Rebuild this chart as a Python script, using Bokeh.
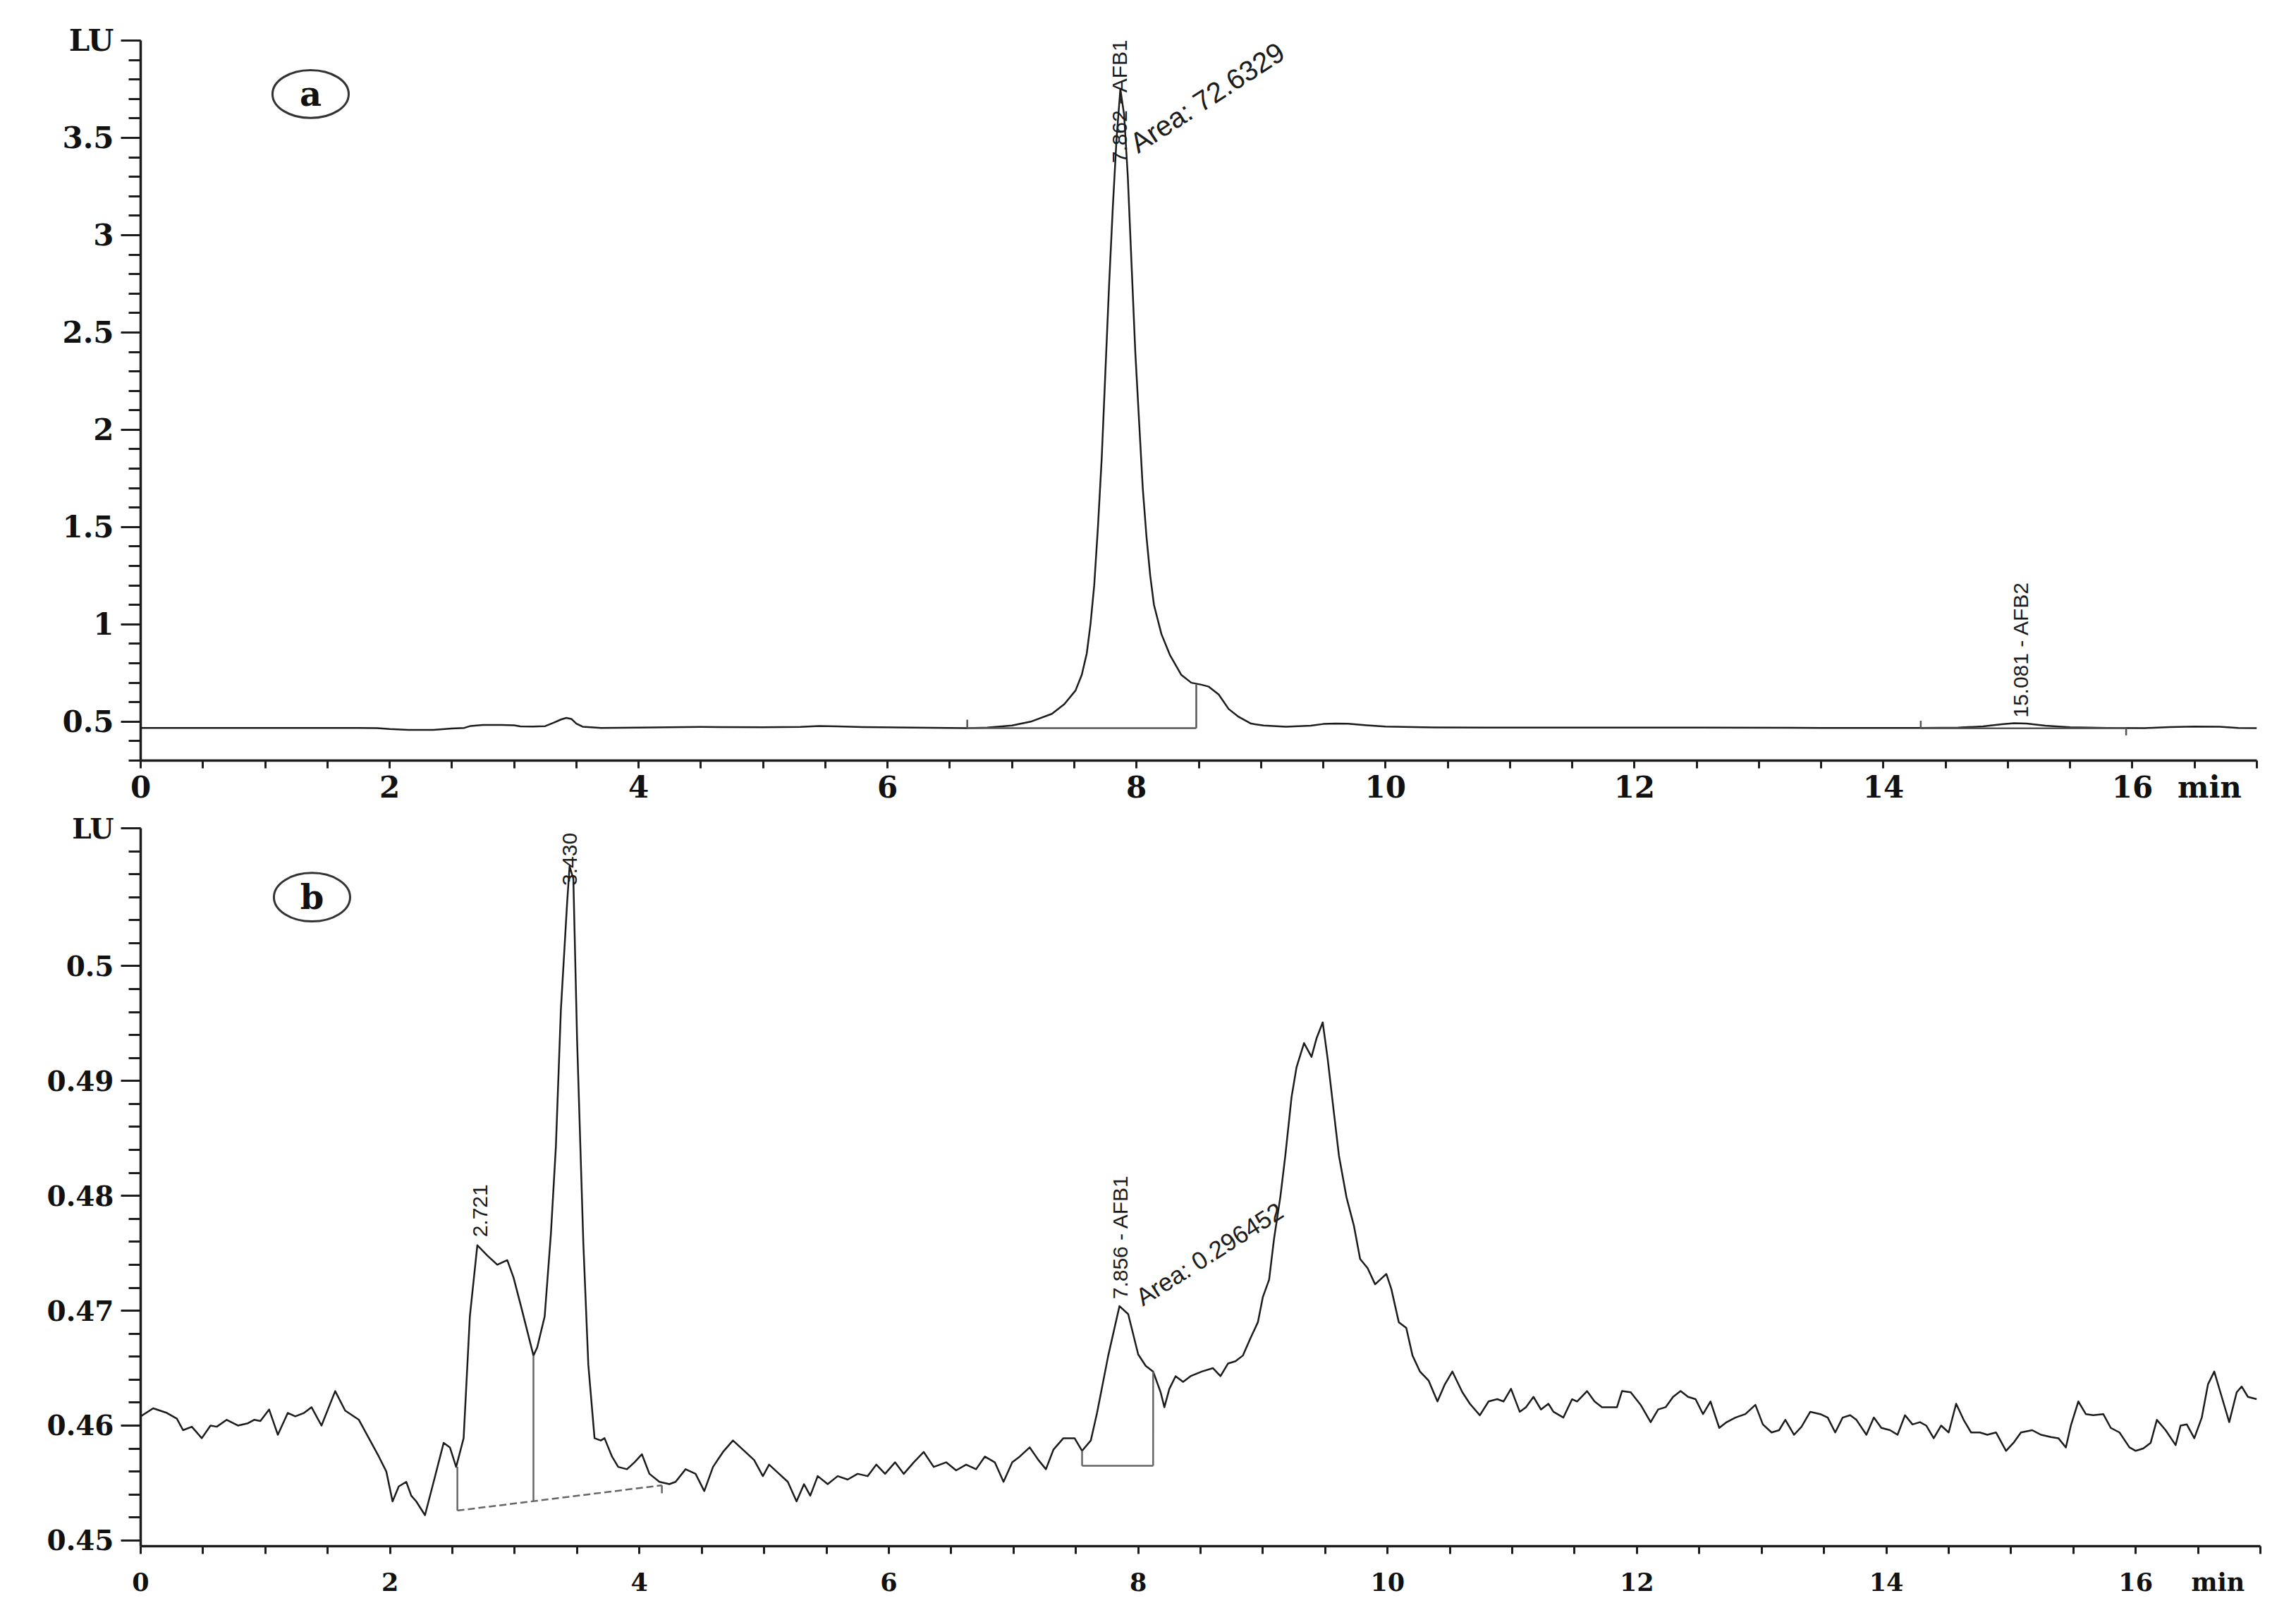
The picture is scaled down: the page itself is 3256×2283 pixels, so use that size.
import math
from bokeh.plotting import figure
from bokeh.models import Range1d, FixedTicker, Label
from bokeh.layouts import column
from bokeh.embed import file_html
from bokeh.resources import INLINE

# ---------------- Panel (a): standard chromatogram ----------------
a_time = [0.0, 0.5, 1.0, 1.5, 1.9, 2.0, 2.15, 2.35, 2.5, 2.6, 2.65, 2.75, 2.9, 3.0,
          3.05, 3.15, 3.25, 3.32, 3.38, 3.42, 3.46, 3.50, 3.55, 3.7, 4.0, 4.5, 5.0,
          5.3, 5.45, 5.6, 5.8, 6.2, 6.64, 6.8, 7.0, 7.15, 7.32, 7.42, 7.51, 7.56,
          7.60, 7.63, 7.66, 7.69, 7.72, 7.75, 7.78, 7.81, 7.84, 7.87, 7.90, 7.93,
          7.96, 7.99, 8.02, 8.05, 8.08, 8.11, 8.14, 8.20, 8.27, 8.36, 8.44, 8.52,
          8.58, 8.66, 8.74, 8.82, 8.92, 9.02, 9.2, 9.4, 9.5, 9.6, 9.7, 9.85, 10.0,
          10.3, 10.8, 11.5, 12.5, 13.5, 14.3, 14.6, 14.8, 14.95, 15.05, 15.15, 15.3,
          15.5, 15.8, 16.1, 16.3, 16.5, 16.7, 16.85, 17.0]
a_signal = [0.468, 0.468, 0.468, 0.468, 0.467, 0.462, 0.458, 0.458, 0.465, 0.468, 0.478,
            0.483, 0.483, 0.481, 0.476, 0.475, 0.477, 0.495, 0.512, 0.519, 0.514, 0.490,
            0.474, 0.468, 0.469, 0.473, 0.471, 0.473, 0.478, 0.476, 0.472, 0.469, 0.467,
            0.469, 0.480, 0.500, 0.540, 0.590, 0.660, 0.740, 0.850, 1.00, 1.20, 1.50,
            1.85, 2.30, 2.75, 3.15, 3.50, 3.75, 3.62, 3.30, 2.85, 2.40, 2.05, 1.70,
            1.45, 1.25, 1.10, 0.95, 0.84, 0.74, 0.70, 0.69, 0.68, 0.64, 0.565, 0.525,
            0.49, 0.48, 0.474, 0.479, 0.488, 0.490, 0.489, 0.481, 0.475, 0.471, 0.469,
            0.469, 0.469, 0.468, 0.468, 0.469, 0.476, 0.487, 0.492, 0.490, 0.479, 0.471,
            0.468, 0.467, 0.472, 0.475, 0.474, 0.468, 0.467]

a_xticks = [0, 2, 4, 6, 8, 10, 12, 14, 16, 16.62]
a_xtick_labels = ["0", "2", "4", "6", "8", "10", "12", "14", "16", "min"]
a_yticks = [0.5, 1.0, 1.5, 2.0, 2.5, 3.0, 3.5, 4.0]
a_ytick_labels = ["0.5", "1", "1.5", "2", "2.5", "3", "3.5", "LU"]

# integration marks of panel (a): (x0, y0, x1, y1)
a_integration = [(6.64, 0.467, 8.48, 0.467), (8.48, 0.467, 8.48, 0.69),
                 (6.64, 0.467, 6.64, 0.51), (14.30, 0.466, 15.95, 0.466),
                 (14.30, 0.466, 14.30, 0.505), (15.95, 0.466, 15.95, 0.43)]
a_peak_labels = ["7.862 - AFB1", "15.081 - AFB2"]
a_peak_label_x = [7.862, 15.10]
a_peak_label_y = [3.37, 0.52]
a_area_label = "Area: 72.6329"

# ---------------- Panel (b): sample chromatogram ----------------
b_time = [0.00, 0.10, 0.21, 0.29, 0.34, 0.41, 0.49, 0.56, 0.61, 0.69, 0.78, 0.86, 0.91,
          0.96, 1.03, 1.10, 1.18, 1.24, 1.31, 1.37, 1.45, 1.56, 1.64, 1.75, 1.83, 1.91,
          1.97, 2.02, 2.07, 2.13, 2.17, 2.21, 2.28, 2.34, 2.43, 2.48, 2.53, 2.59, 2.64,
          2.70, 2.78, 2.86, 2.94, 2.99, 3.05, 3.15, 3.18, 3.24, 3.29, 3.33, 3.37, 3.42,
          3.44, 3.47, 3.50, 3.55, 3.59, 3.64, 3.69, 3.72, 3.78, 3.83, 3.90, 3.96, 4.02,
          4.08, 4.16, 4.24, 4.29, 4.37, 4.45, 4.52, 4.59, 4.67, 4.75, 4.83, 4.92, 4.99,
          5.04, 5.10, 5.19, 5.26, 5.32, 5.37, 5.43, 5.51, 5.59, 5.67, 5.75, 5.83, 5.90,
          5.97, 6.05, 6.12, 6.20, 6.28, 6.36, 6.46, 6.54, 6.62, 6.70, 6.77, 6.85, 6.92,
          6.99, 7.05, 7.13, 7.20, 7.26, 7.32, 7.40, 7.49, 7.55, 7.62, 7.67, 7.76, 7.85,
          7.92, 8.00, 8.06, 8.12, 8.18, 8.21, 8.25, 8.30, 8.36, 8.42, 8.51, 8.60, 8.66,
          8.72, 8.78, 8.84, 8.90, 8.96, 9.00, 9.05, 9.09, 9.14, 9.18, 9.23, 9.27, 9.33,
          9.39, 9.43, 9.48, 9.52, 9.57, 9.61, 9.67, 9.73, 9.78, 9.84, 9.90, 9.94, 9.99,
          10.03, 10.09, 10.15, 10.20, 10.26, 10.33, 10.40, 10.46, 10.52, 10.60, 10.66,
          10.74, 10.81, 10.88, 10.93, 10.99, 11.06, 11.11, 11.17, 11.23, 11.29, 11.33,
          11.41, 11.48, 11.52, 11.60, 11.66, 11.72, 11.79, 11.84, 11.88, 11.95, 12.03,
          12.11, 12.17, 12.23, 12.29, 12.35, 12.41, 12.47, 12.53, 12.59, 12.66, 12.72,
          12.79, 12.87, 12.95, 13.01, 13.08, 13.14, 13.19, 13.26, 13.32, 13.39, 13.47,
          13.53, 13.59, 13.65, 13.71, 13.76, 13.84, 13.90, 13.96, 14.03, 14.09, 14.15,
          14.21, 14.27, 14.32, 14.38, 14.44, 14.50, 14.56, 14.62, 14.68, 14.75, 14.81,
          14.88, 14.96, 15.02, 15.08, 15.17, 15.24, 15.32, 15.38, 15.44, 15.48, 15.54,
          15.60, 15.66, 15.74, 15.80, 15.87, 15.95, 16.00, 16.06, 16.12, 16.17, 16.24,
          16.32, 16.36, 16.41, 16.47, 16.53, 16.58, 16.63, 16.69, 16.75, 16.81, 16.85,
          16.90, 16.97]
b_signal = [0.4608, 0.4615, 0.4611, 0.4606, 0.4596, 0.4599, 0.4589, 0.4600, 0.4599,
            0.4605, 0.4600, 0.4602, 0.4605, 0.4604, 0.4614, 0.4592, 0.4611, 0.4608,
            0.4611, 0.4616, 0.4600, 0.4630, 0.4613, 0.4605, 0.4589, 0.4573, 0.4560,
            0.4534, 0.4547, 0.4551, 0.4539, 0.4534, 0.4522, 0.4547, 0.4585, 0.4581,
            0.4564, 0.4589, 0.4695, 0.4757, 0.4748, 0.4740, 0.4744, 0.4729, 0.4704,
            0.4661, 0.4668, 0.4695, 0.4767, 0.4843, 0.4962, 0.5055, 0.5087, 0.5076,
            0.4936, 0.4759, 0.4653, 0.4589, 0.4587, 0.4589, 0.4573, 0.4564, 0.4562,
            0.4568, 0.4575, 0.4558, 0.4551, 0.4549, 0.4551, 0.4562, 0.4558, 0.4543,
            0.4564, 0.4577, 0.4587, 0.4579, 0.4570, 0.4556, 0.4566, 0.4560, 0.4551,
            0.4534, 0.4549, 0.4539, 0.4556, 0.4549, 0.4556, 0.4553, 0.4558, 0.4556,
            0.4566, 0.4558, 0.4568, 0.4558, 0.4568, 0.4577, 0.4564, 0.4568, 0.4561,
            0.4566, 0.4562, 0.4573, 0.4568, 0.4551, 0.4568, 0.4573, 0.4581, 0.4570,
            0.4562, 0.4579, 0.4589, 0.4589, 0.4578, 0.4587, 0.4611, 0.4661, 0.4704,
            0.4697, 0.4662, 0.4652, 0.4647, 0.4629, 0.4616, 0.4632, 0.4643, 0.4638,
            0.4643, 0.4647, 0.4650, 0.4643, 0.4654, 0.4656, 0.4661, 0.4676, 0.4690,
            0.4712, 0.4727, 0.4763, 0.4799, 0.4835, 0.4886, 0.4912, 0.4933, 0.4921,
            0.4937, 0.4951, 0.4919, 0.4872, 0.4835, 0.4799, 0.4774, 0.4745, 0.4737,
            0.4723, 0.4727, 0.4732, 0.4719, 0.4690, 0.4685, 0.4661, 0.4647, 0.4639,
            0.4621, 0.4636, 0.4647, 0.4629, 0.4619, 0.4609, 0.4621, 0.4623, 0.4621,
            0.4632, 0.4612, 0.4616, 0.4625, 0.4614, 0.4619, 0.4612, 0.4607, 0.4623,
            0.4621, 0.4630, 0.4621, 0.4616, 0.4616, 0.4616, 0.4630, 0.4629, 0.4618,
            0.4603, 0.4614, 0.4616, 0.4625, 0.4630, 0.4625, 0.4623, 0.4610, 0.4621,
            0.4598, 0.4603, 0.4607, 0.4610, 0.4618, 0.4601, 0.4594, 0.4596, 0.4605,
            0.4592, 0.4599, 0.4612, 0.4610, 0.4607, 0.4594, 0.4607, 0.4609, 0.4605,
            0.4592, 0.4607, 0.4598, 0.4596, 0.4592, 0.4609, 0.4601, 0.4603, 0.4600,
            0.4589, 0.4600, 0.4594, 0.4619, 0.4605, 0.4594, 0.4594, 0.4592, 0.4594,
            0.4578, 0.4585, 0.4594, 0.4596, 0.4592, 0.4590, 0.4589, 0.4581, 0.4600,
            0.4621, 0.4610, 0.4609, 0.4610, 0.4598, 0.4594, 0.4581, 0.4578, 0.4580,
            0.4585, 0.4605, 0.4596, 0.4583, 0.4600, 0.4601, 0.4589, 0.4607, 0.4636,
            0.4647, 0.4625, 0.4603, 0.4629, 0.4634, 0.4625, 0.4623]

b_xticks = [0, 2, 4, 6, 8, 10, 12, 14, 16, 16.66]
b_xtick_labels = ["0", "2", "4", "6", "8", "10", "12", "14", "16", "min"]
b_yticks = [0.45, 0.46, 0.47, 0.48, 0.49, 0.50, 0.512]
b_ytick_labels = ["0.45", "0.46", "0.47", "0.48", "0.49", "0.5", "LU"]

b_integration = [(2.54, 0.4526, 2.54, 0.4564), (3.15, 0.4534, 3.15, 0.4661),
                 (4.18, 0.4548, 4.18, 0.4541), (7.55, 0.4565, 7.55, 0.4578),
                 (7.55, 0.4565, 8.12, 0.4565), (8.12, 0.4565, 8.12, 0.4647)]
b_baseline = (2.54, 0.4526, 4.18, 0.4548)
b_peak_labels = ["2.721", "3.430", "7.856 - AFB1"]
b_peak_label_x = [2.721, 3.440, 7.856]
b_peak_label_y = [0.4764, 0.5070, 0.4710]
b_area_label = "Area: 0.296452"

SERIF = "DejaVu Serif"
SANS = "Liberation Sans"
INK = "#1c1c1c"


def make_panel(frame_w, frame_h, borders, xr, yr, xticks, xlabels, yticks, ylabels,
               yminor, xfs, yfs, x_standoff):
    left, right, top, bottom = borders
    p = figure(frame_width=frame_w, frame_height=frame_h,
               x_range=Range1d(*xr), y_range=Range1d(*yr),
               output_backend="svg", toolbar_location=None,
               min_border_left=left, min_border_right=right,
               min_border_top=top, min_border_bottom=bottom)
    p.outline_line_color = None
    p.xgrid.visible = False
    p.ygrid.visible = False
    p.background_fill_color = "white"
    p.border_fill_color = "white"

    # every 0.5 min gets a tick mark (majors drawn through the minor list)
    xminor = [i * 0.5 for i in range(0, 35)]
    p.xaxis.ticker = FixedTicker(ticks=xticks, minor_ticks=xminor)
    p.xaxis.major_label_overrides = {t: s for t, s in zip(xticks, xlabels)}
    p.yaxis.ticker = FixedTicker(ticks=yticks, minor_ticks=yminor)
    p.yaxis.major_label_overrides = {t: s for t, s in zip(yticks, ylabels)}

    for ax in (p.xaxis, p.yaxis):
        ax.axis_line_width = 3.5
        ax.axis_line_color = INK
        ax.major_tick_line_width = 3
        ax.minor_tick_line_width = 3
        ax.major_tick_line_color = INK
        ax.minor_tick_line_color = INK
        ax.major_tick_in = 0
        ax.minor_tick_in = 0
        ax.major_label_text_font = SERIF
        ax.major_label_text_font_style = "bold"
        ax.major_label_text_color = "#111111"
    p.xaxis.major_tick_out = 0
    p.xaxis.minor_tick_out = 11
    p.xaxis.major_label_standoff = x_standoff
    p.xaxis.major_label_text_font_size = xfs
    p.yaxis.major_tick_out = 28
    p.yaxis.minor_tick_out = 17
    p.yaxis.major_label_standoff = 10
    p.yaxis.major_label_text_font_size = yfs
    return p


# ---------- panel a ----------
a_yminor = [round(0.3 + 0.1 * i, 2) for i in range(0, 38)]
pa = make_panel(3001, 1021, (199, 40, 57, 70), (0, 17), (0.3, 4.0),
                a_xticks, a_xtick_labels, a_yticks, a_ytick_labels, a_yminor,
                "42px", "42px", 2)
pa.line(a_time, a_signal, line_color=INK, line_width=2.5, line_join="round")
pa.segment(x0=[s[0] for s in a_integration], y0=[s[1] for s in a_integration],
           x1=[s[2] for s in a_integration], y1=[s[3] for s in a_integration],
           line_color="#555555", line_width=2.5)
for txt, x, y in zip(a_peak_labels, a_peak_label_x, a_peak_label_y):
    pa.add_layout(Label(x=x, y=y, text=txt, angle=math.pi / 2, text_align="left",
                        text_baseline="middle", text_font=SANS, text_font_size="30px",
                        text_color=INK))
pa.add_layout(Label(x=7.97, y=3.46, text=a_area_label, angle=math.radians(33),
                    text_align="left", text_baseline="alphabetic", text_font=SANS,
                    text_font_size="40px", text_color=INK))
pa.ellipse(x=[1.365], y=[3.725], width=0.612, height=0.246, fill_color=None,
           line_color="#333333", line_width=3)
pa.add_layout(Label(x=1.365, y=3.725, text="a", text_align="center",
                    text_baseline="middle", text_font=SERIF, text_font_style="bold",
                    text_font_size="48px", text_color="#111111"))

# ---------- panel b ----------
b_yminor = [round(0.45 + 0.002 * i, 3) for i in range(0, 32)]
pb = make_panel(3006, 1018, (188, 46, 26, 70), (0, 17), (0.4495, 0.512),
                b_xticks, b_xtick_labels, b_yticks, b_ytick_labels, b_yminor,
                "35px", "39px", 19)
pb.line(b_time, b_signal, line_color=INK, line_width=2.5, line_join="round")
pb.segment(x0=[s[0] for s in b_integration], y0=[s[1] for s in b_integration],
           x1=[s[2] for s in b_integration], y1=[s[3] for s in b_integration],
           line_color="#666666", line_width=2.5)
pb.segment(x0=[b_baseline[0]], y0=[b_baseline[1]], x1=[b_baseline[2]], y1=[b_baseline[3]],
           line_color="#666666", line_width=2.5, line_dash="10 5")
for txt, x, y in zip(b_peak_labels, b_peak_label_x, b_peak_label_y):
    pb.add_layout(Label(x=x, y=y, text=txt, angle=math.pi / 2, text_align="left",
                        text_baseline="middle", text_font=SANS, text_font_size="30px",
                        text_color=INK))
pb.add_layout(Label(x=8.00, y=0.4710, text=b_area_label, angle=math.radians(32.5),
                    text_align="left", text_baseline="alphabetic", text_font=SANS,
                    text_font_size="35px", text_color=INK))
pb.ellipse(x=[1.374], y=[0.5060], width=0.611, height=0.00422, fill_color=None,
           line_color="#333333", line_width=3)
pb.add_layout(Label(x=1.374, y=0.5060, text="b", text_align="center",
                    text_baseline="middle", text_font=SERIF, text_font_style="bold",
                    text_font_size="48px", text_color="#111111"))

layout = column(pa, pb, spacing=0)
open("out.html", "w").write(file_html(layout, INLINE))
